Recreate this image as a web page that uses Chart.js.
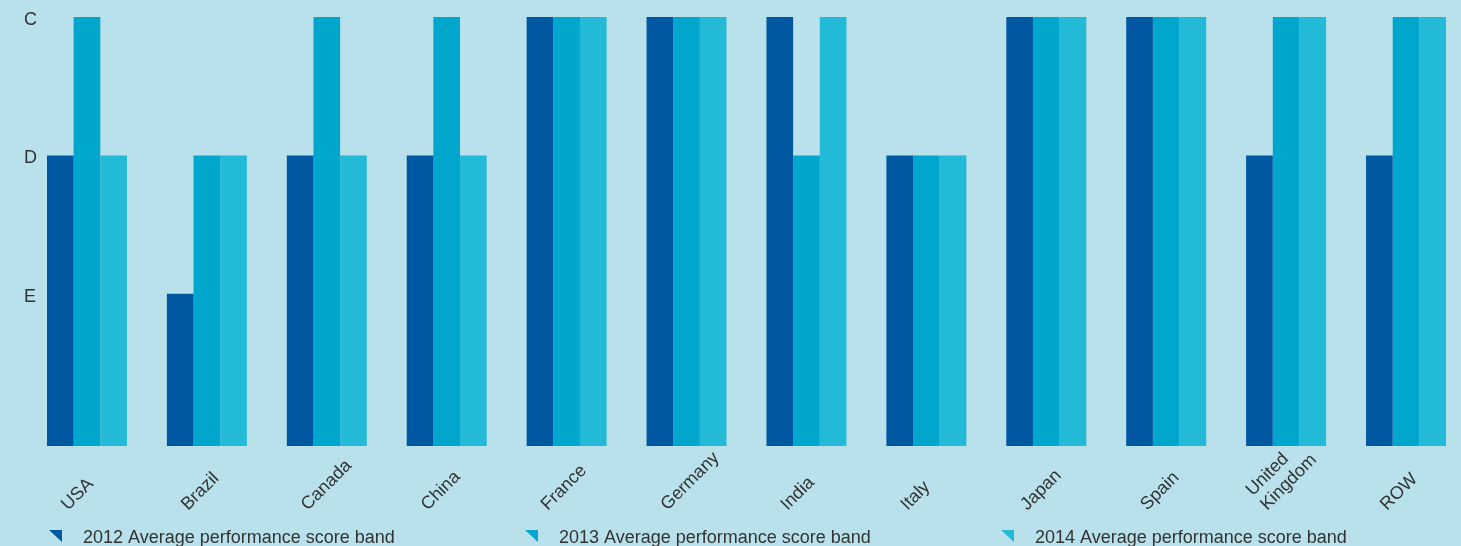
<!DOCTYPE html>
<html><head><meta charset="utf-8">
<script src="https://cdn.jsdelivr.net/npm/chart.js@4/dist/chart.umd.min.js"></script>
<style>
html,body{margin:0;padding:0;background:#b9e1eb;overflow:hidden;}
#wrap{width:1470px;height:546px;}
canvas{display:block;}
</style>
</head><body><div id="wrap"><canvas id="c" width="1470" height="546"></canvas></div>
<script>
const categories = ["USA","Brazil","Canada","China","France","Germany","India","Italy","Japan","Spain",["United","Kingdom"],"ROW"];
const bandTicks = [1, 2, 3];
const bandLabels = ["E", "D", "C"];
const seriesNames = ["2012 Average performance score band","2013 Average performance score band","2014 Average performance score band"];
const series2012 = [2,1,2,2,3,3,3,2,3,3,2,2];
const series2013 = [3,2,3,3,3,3,2,2,3,3,3,3];
const series2014 = [2,2,2,2,3,3,3,2,3,3,3,3];
const colors = ["#0058a2","#00a6cc","#23bad8"];
const Y_MIN = -0.1, Y_MAX = 3;

const FONT = "'Liberation Sans', Arial, Helvetica, sans-serif";
const TEXT = "#333333";

const labelPlugin = {
  id: 'slantLabels',
  afterDraw(chart) {
    const ctx = chart.ctx;
    const xs = chart.scales.x;
    ctx.save();
    ctx.fillStyle = TEXT;
    ctx.font = "18px " + FONT;
    ctx.textAlign = 'left';
    ctx.textBaseline = 'alphabetic';
    chart.data.labels.forEach((lab, i) => {
      const lines = Array.isArray(lab) ? lab : [lab];
      const px = xs.getPixelForValue(i) - 19;
      const py = chart.chartArea.bottom + 65;
      lines.forEach((ln, j) => {
        const back = (lines.length - 1 - j) * 14.5;
        ctx.save();
        ctx.translate(px - back, py - back);
        ctx.rotate(-Math.PI / 4);
        ctx.fillText(ln, 0, 0);
        ctx.restore();
      });
    });
    ctx.restore();
  }
};

const legendPlugin = {
  id: 'triLegend',
  afterDraw(chart) {
    const ctx = chart.ctx;
    ctx.save();
    chart.data.datasets.forEach((ds, i) => {
      const x = 49 + i * 476;
      ctx.fillStyle = ds.backgroundColor;
      ctx.beginPath();
      ctx.moveTo(x, 530);
      ctx.lineTo(x + 13, 530);
      ctx.lineTo(x + 13, 542);
      ctx.closePath();
      ctx.fill();
      ctx.fillStyle = TEXT;
      ctx.font = "18px " + FONT;
      ctx.textBaseline = 'alphabetic';
      ctx.textAlign = 'left';
      ctx.fillText(ds.label, x + 34, 543);
    });
    ctx.restore();
  }
};

new Chart(document.getElementById('c'), {
  type: 'bar',
  data: {
    labels: categories,
    datasets: [
      {label: seriesNames[0], data: series2012, backgroundColor: colors[0]},
      {label: seriesNames[1], data: series2013, backgroundColor: colors[1]},
      {label: seriesNames[2], data: series2014, backgroundColor: colors[2]}
    ]
  },
  options: {
    responsive: false,
    animation: false,
    layout: {padding: {top: 17, left: 27, right: 4, bottom: 0}},
    datasets: {bar: {barPercentage: 1, categoryPercentage: 0.667, borderWidth: 0, base: Y_MIN}},
    plugins: {legend: {display: false}, tooltip: {enabled: false}},
    scales: {
      x: {
        grid: {display: false, drawTicks: false},
        border: {display: false},
        ticks: {display: false, autoSkip: false},
        afterFit(scale) { scale.height = 100; }
      },
      y: {
        min: Y_MIN, max: Y_MAX,
        grid: {display: false, drawTicks: false},
        border: {display: false},
        afterFit(scale) { scale.width = 0; },
        afterBuildTicks(scale) { scale.ticks = bandTicks.map(v => ({value: v})); },
        ticks: {
          mirror: true, padding: -3, labelOffset: 3, color: TEXT, font: {family: FONT, size: 18},
          callback(v) { const i = bandTicks.indexOf(v); return i >= 0 ? bandLabels[i] : ''; }
        }
      }
    }
  },
  plugins: [labelPlugin, legendPlugin]
});
</script>
</body></html>
